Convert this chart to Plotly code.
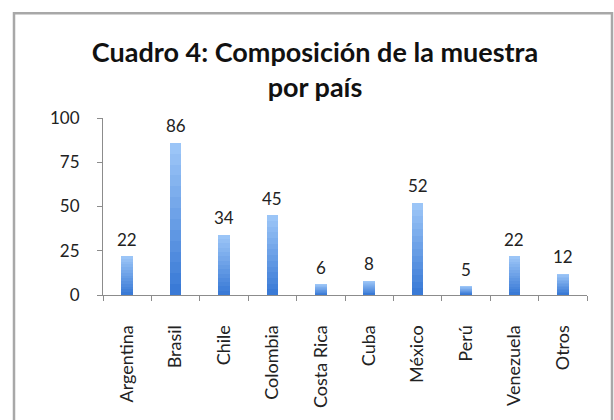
import plotly.graph_objects as go

categories = ["Argentina", "Brasil", "Chile", "Colombia", "Costa Rica",
              "Cuba", "México", "Perú", "Venezuela", "Otros"]
values = [22, 86, 34, 45, 6, 8, 52, 5, 22, 12]
y_ticks = [0, 25, 50, 75, 100]
title_text = "Cuadro 4: Composición de la muestra<br>por país"

FONT = "Lato, 'Open Sans', sans-serif"
TXT = "#222222"

# vertical gradient: light at top, dark at bottom (layered overlay bars)
top_rgb = (155, 197, 247)
bot_rgb = (58, 122, 214)
N = 14
fig = go.Figure()
for k in range(N):
    frac = 1 - k / N
    t = k / (N - 1)
    c = tuple(round(top_rgb[i] + (bot_rgb[i] - top_rgb[i]) * t) for i in range(3))
    fig.add_trace(go.Bar(
        x=categories, y=[v * frac for v in values],
        marker=dict(color=f"rgb{c}", line=dict(width=0)),
        width=0.24, hoverinfo="skip", showlegend=False,
    ))

for cat, v in zip(categories, values):
    fig.add_annotation(x=cat, y=v, text=str(v), showarrow=False,
                       yanchor="middle", yshift=17,
                       font=dict(family=FONT, size=17, color=TXT))

# outer chart border (in paper coordinates)
L, R, T, B = 103, 27, 118, 121
W, H = 614, 420
pw, ph = W - L - R, H - T - B
def px_x(p):
    return (p - L) / pw
def px_y(p):
    return (H - B - p) / ph
fig.add_shape(type="rect", xref="paper", yref="paper",
              x0=px_x(14), x1=px_x(612), y0=px_y(440), y1=px_y(11),
              line=dict(color="#a8a8a8", width=2.5), fillcolor="rgba(0,0,0,0)",
              layer="below")

fig.update_layout(
    width=W, height=H,
    margin=dict(l=L, r=R, t=T, b=B),
    paper_bgcolor="white", plot_bgcolor="white",
    barmode="overlay", bargap=0,
    font=dict(family=FONT, color=TXT),
    title=dict(text=title_text, x=315 / W, xanchor="center",
               y=1 - 62 / H, yanchor="top", xref="container", yref="container",
               font=dict(family=FONT, size=27, color="#111111", weight="bold")),
    xaxis=dict(type="category", tickangle=-90, showline=True, linecolor="#8c8c8c",
               linewidth=1, ticks="outside", tickson="boundaries", ticklen=5,
               tickcolor="#8c8c8c", showgrid=False, ticklabelstandoff=22,
               tickfont=dict(family=FONT, size=18, color=TXT)),
    yaxis=dict(range=[0, 100], tickvals=y_ticks, showline=True, linecolor="#8c8c8c",
               linewidth=1, ticks="outside", ticklen=5, tickcolor="#8c8c8c",
               showgrid=False, zeroline=False, ticklabelstandoff=14,
               tickfont=dict(family=FONT, size=17, color=TXT)),
)

fig.write_html("out.html", config={"displayModeBar": False},
               post_script="document.body.style.margin='0';document.body.style.padding='0';")
